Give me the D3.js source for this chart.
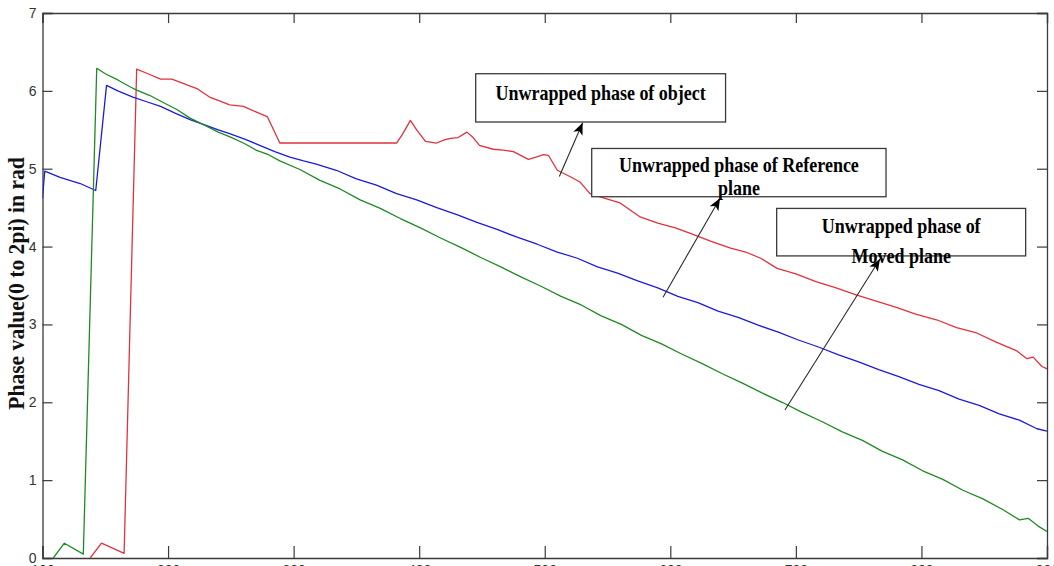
<!DOCTYPE html>
<html>
<head>
<meta charset="utf-8">
<script src="https://cdn.jsdelivr.net/npm/d3@7"></script>
<style>
  html, body { margin: 0; padding: 0; background: #ffffff; }
  svg { display: block; }
</style>
</head>
<body>
<svg id="chart" width="1054" height="566"></svg>
<script>
// Sample position (pixel column) and unwrapped phase (rad) for each curve
const objectX = [138, 147, 165, 175, 184, 194, 203, 213, 223, 233, 241, 249, 260, 270, 279, 289,
  382, 387, 393, 398, 405, 414, 420, 425, 431, 438, 443, 448, 459, 467, 475, 487, 493, 499, 503,
  510, 520, 528, 536, 548, 560, 568, 576, 590, 604, 616, 632, 648, 660, 672, 685, 700, 716, 732,
  748, 764, 780, 796, 812, 828, 844, 860, 876, 884, 889, 896, 900];
const objectPhase = [0, 0.19, 0.06, 6.28, 6.22, 6.15, 6.15, 6.09, 6.03, 5.92, 5.87, 5.82, 5.80, 5.73, 5.67, 5.33,
  5.33, 5.45, 5.62, 5.50, 5.35, 5.33, 5.37, 5.39, 5.40, 5.47, 5.40, 5.30, 5.25, 5.24, 5.22, 5.12, 5.15, 5.18, 5.17,
  4.98, 4.90, 4.83, 4.68, 4.62, 4.56, 4.47, 4.38, 4.30, 4.24, 4.17, 4.07, 3.98, 3.93, 3.85, 3.72, 3.65, 3.55, 3.47,
  3.38, 3.30, 3.22, 3.13, 3.06, 2.96, 2.89, 2.77, 2.66, 2.56, 2.58, 2.46, 2.43];

const referenceX = [100, 101.8, 114, 130, 142.4, 151, 160, 172, 183, 194, 206, 217.5, 228, 240, 249, 261, 273,
  285, 297, 308, 318, 334, 350, 366, 382, 398, 414, 430, 446, 462, 478, 494, 510, 526, 542, 558, 574,
  590, 606, 622, 638, 654, 670, 686, 702, 718, 734, 750, 766, 782, 798, 814, 830, 846, 862, 878, 892, 900];
const referencePhase = [4.62, 4.97, 4.89, 4.81, 4.72, 6.07, 6.00, 5.92, 5.86, 5.80, 5.71, 5.63, 5.57, 5.50, 5.45, 5.38, 5.30,
  5.22, 5.15, 5.10, 5.06, 4.98, 4.87, 4.79, 4.68, 4.60, 4.50, 4.41, 4.31, 4.22, 4.12, 4.03, 3.93, 3.85, 3.74, 3.66, 3.56,
  3.47, 3.36, 3.28, 3.17, 3.09, 2.99, 2.90, 2.80, 2.71, 2.61, 2.52, 2.42, 2.33, 2.23, 2.15, 2.04, 1.96, 1.85, 1.77, 1.66, 1.63];

const movedX = [108.6, 117.4, 132.5, 143.2, 150, 160, 170, 175, 185.6, 195, 207, 217.5, 229, 240, 249.3, 260,
  270, 280, 289, 305, 321, 337, 353, 369, 385, 401, 417, 433, 449, 465, 481, 497, 513, 529, 545, 561,
  577, 593, 609, 625, 641, 657, 673, 689, 705, 721, 737, 753, 769, 785, 801, 817, 833, 849, 865, 878,
  885, 893, 900];
const movedPhase = [0, 0.19, 0.05, 6.29, 6.22, 6.14, 6.05, 6.01, 5.94, 5.86, 5.76, 5.65, 5.56, 5.47, 5.41, 5.33,
  5.24, 5.18, 5.10, 4.99, 4.85, 4.74, 4.60, 4.49, 4.36, 4.24, 4.11, 3.99, 3.86, 3.74, 3.61, 3.49, 3.36, 3.25, 3.11, 3.00,
  2.86, 2.75, 2.62, 2.50, 2.37, 2.25, 2.12, 2.00, 1.87, 1.75, 1.62, 1.51, 1.37, 1.26, 1.12, 1.01, 0.87, 0.76, 0.62, 0.49,
  0.51, 0.41, 0.34];

const xTicks = [100, 200, 300, 400, 500, 600, 700, 800, 900];
const yTicks = [0, 1, 2, 3, 4, 5, 6, 7];
const yLabel = "Phase value(0 to 2pi) in rad";

// Callout boxes (data coordinates) with their text lines and arrow ends
const callouts = [
  { lines: ["Unwrapped phase of object"], x0: 445, x1: 644, yTop: 6.22, yBot: 5.60,
    base: [5.88], tail: [511.6, 4.90], tip: [530.2, 5.59] },
  { lines: ["Unwrapped phase of Reference", "plane"], x0: 537.4, x1: 771.8, yTop: 5.26, yBot: 4.64,
    base: [4.96, 4.66], tail: [594.2, 3.35], tip: [639.6, 4.62] },
  { lines: ["Unwrapped phase of", "Moved plane"], x0: 684.7, x1: 883, yTop: 4.49, yBot: 3.88,
    base: [4.17, 3.79], tail: [691.3, 1.90], tip: [767.0, 3.84] }
];

const svg = d3.select("#chart");
const plotLeft = 42.5, plotRight = 1047, plotTop = 13, plotBottom = 558;

const x = d3.scaleLinear().domain([100, 900]).range([plotLeft, plotRight]);
const y = d3.scaleLinear().domain([0, 7]).range([plotBottom, plotTop]);

svg.append("rect").attr("width", 1054).attr("height", 566).attr("fill", "#ffffff");

const defs = svg.append("defs");
defs.append("clipPath").attr("id", "plotClip")
  .append("rect").attr("x", plotLeft).attr("y", plotTop)
  .attr("width", plotRight - plotLeft).attr("height", plotBottom - plotTop);

const axisColor = "#3a3a3a";
const tickFont = "'Liberation Sans', Arial, sans-serif";

// Axes with inward ticks on all four sides
const gBottom = svg.append("g").attr("transform", `translate(0,${plotBottom})`)
  .call(d3.axisBottom(x).tickValues(xTicks).tickSize(-12).tickFormat(d3.format("d")));
const gTop = svg.append("g").attr("transform", `translate(0,${plotTop})`)
  .call(d3.axisTop(x).tickValues(xTicks).tickSize(-10).tickFormat(""));
const gLeft = svg.append("g").attr("transform", `translate(${plotLeft},0)`)
  .call(d3.axisLeft(y).tickValues(yTicks).tickSize(-10).tickPadding(6).tickFormat(d3.format("d")));
const gRight = svg.append("g").attr("transform", `translate(${plotRight},0)`)
  .call(d3.axisRight(y).tickValues(yTicks).tickSize(-10).tickFormat(""));

[gBottom, gTop, gLeft, gRight].forEach(g => {
  g.select(".domain").attr("stroke", axisColor).attr("stroke-width", 1.3);
  g.selectAll(".tick line").attr("stroke", axisColor).attr("stroke-width", 1.2);
  g.selectAll(".tick text").attr("fill", "#333333").attr("font-family", tickFont).attr("font-size", 14);
});
gBottom.selectAll(".tick text").attr("dy", 0).attr("y", 17);

// Curves
const line = d3.line().x(d => x(d[0])).y(d => y(d[1]));
const series = [
  { xs: objectX, ys: objectPhase, color: "#e0323e" },
  { xs: referenceX, ys: referencePhase, color: "#1c1cd6" },
  { xs: movedX, ys: movedPhase, color: "#1e8a24" }
];
const plot = svg.append("g").attr("clip-path", "url(#plotClip)");
series.forEach(s => {
  plot.append("path")
    .datum(s.xs.map((v, i) => [v, s.ys[i]]))
    .attr("fill", "none")
    .attr("stroke", s.color)
    .attr("stroke-width", 1.3)
    .attr("stroke-linejoin", "round")
    .attr("d", line);
});

// Y axis title
svg.append("text")
  .attr("transform", `translate(24,${(plotTop + plotBottom) / 2 - 2}) rotate(-90) scale(1.08,1.12)`)
  .attr("text-anchor", "middle")
  .attr("font-family", "'Liberation Serif', 'Times New Roman', serif")
  .attr("font-weight", "bold")
  .attr("font-size", 20)
  .attr("fill", "#111111")
  .text(yLabel);

// Callouts: box, arrow and bold serif text
defs.append("marker")
  .attr("id", "arrowHead")
  .attr("viewBox", "0 0 12 10")
  .attr("refX", 12).attr("refY", 5)
  .attr("markerWidth", 12).attr("markerHeight", 10)
  .attr("markerUnits", "userSpaceOnUse")
  .attr("orient", "auto")
  .append("path").attr("d", "M0,0 L12,5 L0,10 L3,5 Z").attr("fill", "#000000");

const notes = svg.append("g");
callouts.forEach(c => {
  notes.append("rect")
    .attr("x", x(c.x0)).attr("y", y(c.yTop))
    .attr("width", x(c.x1) - x(c.x0)).attr("height", y(c.yBot) - y(c.yTop))
    .attr("fill", "#ffffff").attr("stroke", "#3a3a3a").attr("stroke-width", 1.3);
  c.lines.forEach((t, i) => {
    notes.append("text")
      .attr("transform", `translate(${(x(c.x0) + x(c.x1)) / 2},${y(c.base[i])}) scale(1,1.18)`)
      .attr("text-anchor", "middle")
      .attr("font-family", "'Liberation Serif', 'Times New Roman', serif")
      .attr("font-weight", "bold").attr("font-size", 18)
      .attr("fill", "#000000")
      .text(t);
  });
  notes.append("line")
    .attr("x1", x(c.tail[0])).attr("y1", y(c.tail[1]))
    .attr("x2", x(c.tip[0])).attr("y2", y(c.tip[1]))
    .attr("stroke", "#2a2a2a").attr("stroke-width", 1.1)
    .attr("marker-end", "url(#arrowHead)");
});
</script>
</body>
</html>
